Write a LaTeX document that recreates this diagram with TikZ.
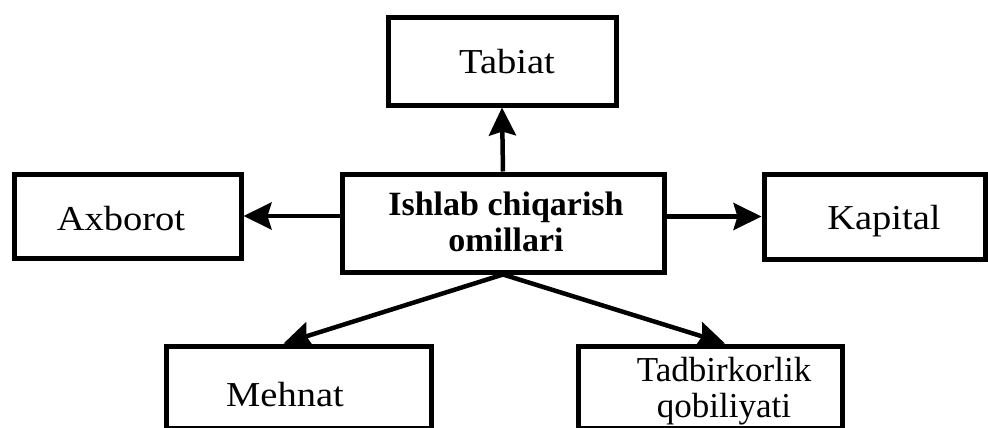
\documentclass[tikz,border=0pt]{standalone}
\usepackage{fontspec}
\setmainfont{Liberation Serif}[FakeStretch=1.1]
\newfontfamily\narrowfont{Liberation Serif}
\usetikzlibrary{arrows.meta}
\begin{document}
\begin{tikzpicture}[x=1pt,y=-1pt,
  box/.style={draw=black, line width=5pt, inner sep=0pt, fill=none},
  lbl/.style={inner sep=0pt, align=center, font=\fontsize{35}{36}\selectfont},
  arr/.style={line width=4.5pt, -{Stealth[length=28pt,width=27pt,inset=4pt]}}]
\useasboundingbox (0,0) rectangle (988,428);
\clip (0,0) rectangle (988,428);
% boxes
\node[box, minimum width=228pt, minimum height=87pt] (tab) at (502,61.5) {};
\node[box, minimum width=322pt, minimum height=98pt] (ctr) at (503,223) {};
\node[box, minimum width=227pt, minimum height=84pt] (axb) at (127.5,216) {};
\node[box, minimum width=221pt, minimum height=85pt] (kap) at (874.5,216.5) {};
\node[box, minimum width=265pt, minimum height=82pt] (meh) at (298.5,387) {};
\node[box, minimum width=264pt, minimum height=82pt] (tad) at (710,387) {};
% texts
\node[lbl] (tabt) at (507,62) {Tabiat};
\node[lbl, font=\fontsize{34}{36}\narrowfont\bfseries] (ctrt) at (506,222) {Ishlab chiqarish\\omillari};
\node[lbl] (axbt) at (121,219) {Axborot};
\node[lbl] (kapt) at (884,221) {Kapital};
\node[lbl] (meht) at (285,395) {Mehnat};
\node[lbl, font=\fontsize{35}{36}\narrowfont] (tadt) at (724,391) {Tadbirkorlik\\qobiliyati};
% connectors
\draw[arr] (ctr.north) -- (tab.south);
\draw[arr] (axb.east -| ctr.west) -- (axb.east);
\draw[arr] (kap.west -| ctr.east) -- (kap.west);
\draw[arr] (ctr.south) -- ([xshift=-15pt]meh.north);
\draw[arr] (ctr.south) -- ([xshift=15pt]tad.north);
\end{tikzpicture}
\end{document}
